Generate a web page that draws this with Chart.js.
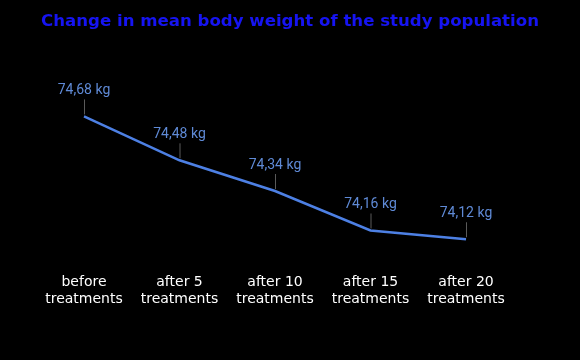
<!DOCTYPE html>
<html><head><meta charset="utf-8">
<script src="https://cdn.jsdelivr.net/npm/chart.js@4"></script>
<style>html,body{margin:0;padding:0;background:#000;}#w{width:580px;height:360px;}</style>
</head><body><div id="w"><canvas id="c" width="580" height="360"></canvas></div>
<script>
const chartTitle = 'Change in mean body weight of the study population';
const categories = [["before","treatments"],["after 5","treatments"],["after 10","treatments"],["after 15","treatments"],["after 20","treatments"]];
const weights = [74.68, 74.48, 74.34, 74.16, 74.12];
const valueLabels = ["74,68 kg","74,48 kg","74,34 kg","74,16 kg","74,12 kg"];

const labelPlugin = {
  id: 'leaderLabels',
  afterDatasetsDraw(chart) {
    const ctx = chart.ctx;
    const meta = chart.getDatasetMeta(0);
    ctx.save();
    ctx.font = '14px Roboto, "Noto Sans", sans-serif';
    ctx.textAlign = 'center';
    ctx.textBaseline = 'alphabetic';
    meta.data.forEach((pt, i) => {
      const x = pt.x, y = pt.y;
      ctx.strokeStyle = 'rgba(150,150,150,0.6)';
      ctx.lineWidth = 1;
      ctx.beginPath();
      ctx.moveTo(x + 0.5, y - 2);
      ctx.lineTo(x + 0.5, y - 17);
      ctx.stroke();
      ctx.fillStyle = '#5f8ad6';
      ctx.fillText(valueLabels[i], x, y - 22);
    });
    // title across the full canvas width
    ctx.font = 'bold 16.6px "DejaVu Sans", sans-serif';
    ctx.fillStyle = '#1614f2';
    ctx.textBaseline = 'middle';
    ctx.fillText(chartTitle, chart.width / 2, 22);
    ctx.restore();
  }
};

new Chart(document.getElementById('c'), {
  type: 'line',
  data: {
    labels: categories,
    datasets: [{
      data: weights,
      borderColor: '#4d80e4',
      borderWidth: 2.5,
      pointRadius: 0,
      tension: 0,
      fill: false
    }]
  },
  options: {
    responsive: false,
    animation: false,
    layout: { padding: { left: 84, right: 114, top: 39, bottom: 32 } },
    plugins: {
      legend: { display: false },
      tooltip: { enabled: false },
      title: { display: false }
    },
    scales: {
      x: {
        offset: false,
        grid: { display: false, drawTicks: false },
        border: { display: false },
        ticks: {
          color: '#ffffff',
          font: { family: '"DejaVu Sans", sans-serif', size: 14 },
          padding: 20,
          maxRotation: 0,
          autoSkip: false
        }
      },
      y: { display: false, min: 74.051, max: 75.033 }
    }
  },
  plugins: [labelPlugin]
});
</script>
</body></html>
